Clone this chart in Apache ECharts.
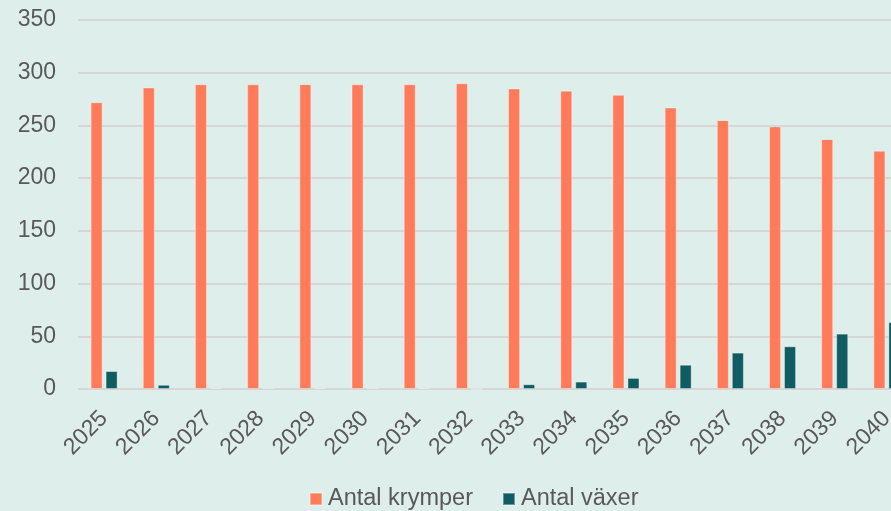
<!DOCTYPE html>
<html>
<head>
<meta charset="utf-8">
<script src="https://cdn.jsdelivr.net/npm/echarts@6/dist/echarts.min.js"></script>
<style>
  html, body { margin: 0; padding: 0; background: #deeeea; }
  #chart { width: 891px; height: 511px; }
</style>
</head>
<body>
<div id="chart"></div>
<script>
// Years on the category axis
var years = ['2025','2026','2027','2028','2029','2030','2031','2032',
             '2033','2034','2035','2036','2037','2038','2039','2040'];

// Number of municipalities shrinking / growing per year
var antalKrymper = [272, 286, 289, 289, 289, 289, 289, 290, 285, 283, 279, 267, 255, 249, 237, 226];
var antalVaxer   = [17, 4, 1, 1, 1, 1, 1, 0, 4.5, 7, 10.5, 23, 34.5, 40.5, 52.5, 63.5];

// Value-axis ticks
var yMin = 0, yMax = 350, yStep = 50;

var textColor = '#595959';
var fontFamily = '"Liberation Sans", Arial, sans-serif';

var chart = echarts.init(document.getElementById('chart'), null, { renderer: 'canvas' });
chart.setOption({
  backgroundColor: '#deeeea',
  animation: false,
  textStyle: { fontFamily: fontFamily },
  // plot area runs past the right edge of the page, so the last bar is clipped
  grid: { left: 78, width: 835, top: 20, height: 369, containLabel: false, outerBoundsMode: 'none' },
  legend: {
    top: 487,
    left: 309,
    padding: 0,
    itemWidth: 12,
    itemHeight: 12,
    itemGap: 29,
    icon: 'rect',
    textStyle: { color: textColor, fontSize: 23.5, fontFamily: fontFamily, padding: [0, 0, 0, 1] },
    data: ['Antal krymper', 'Antal växer']
  },
  xAxis: {
    type: 'category',
    data: years,
    axisLine: { show: false },
    axisTick: { show: false },
    axisLabel: {
      rotate: 45,
      margin: 26,
      color: textColor,
      fontSize: 23,
      fontFamily: fontFamily,
      interval: 0
    }
  },
  yAxis: {
    type: 'value',
    min: yMin,
    max: yMax,
    interval: yStep,
    axisLine: { show: false },
    axisTick: { show: false },
    axisLabel: { color: textColor, fontSize: 23, fontFamily: fontFamily, margin: 22 },
    splitLine: { lineStyle: { color: '#d6d6d6', width: 2 } }
  },
  series: [
    {
      name: 'Antal krymper',
      type: 'bar',
      data: antalKrymper,
      barWidth: 12,
      barGap: '25%',
      itemStyle: { color: '#ff7b5a', borderColor: 'rgba(255,255,255,0.35)', borderWidth: 1 }
    },
    {
      name: 'Antal växer',
      type: 'bar',
      data: antalVaxer,
      barWidth: 12,
      barGap: '25%',
      itemStyle: { color: '#0f5c63', borderColor: 'rgba(255,255,255,0.35)', borderWidth: 1 }
    }
  ]
});
</script>
</body>
</html>
